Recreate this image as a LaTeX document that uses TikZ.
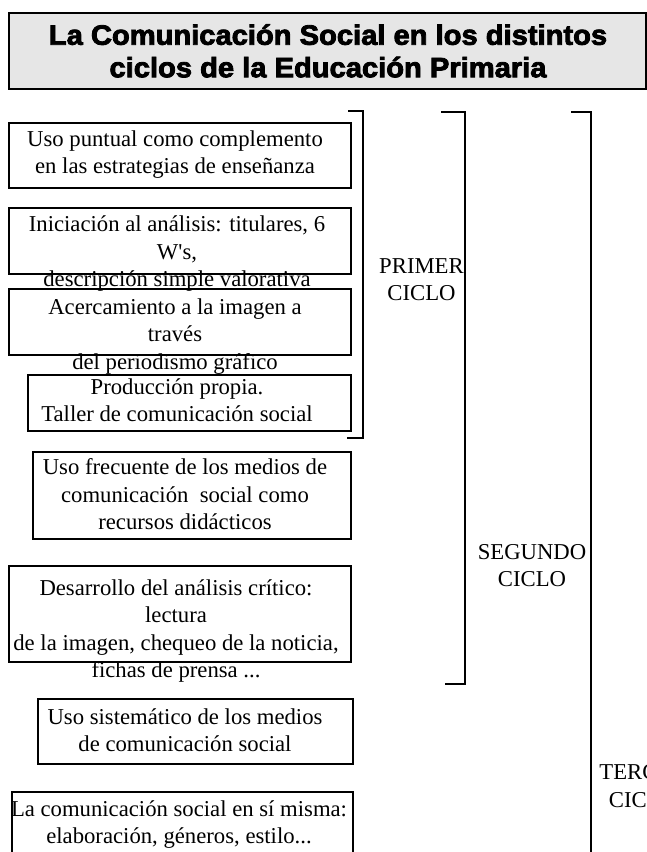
\documentclass[tikz,border=0pt]{standalone}
\usepackage{fontspec}
\setmainfont{Liberation Serif}
\newfontfamily\titlefont[FakeBold=3,FakeStretch=1.04]{Liberation Sans Bold}
\usetikzlibrary{positioning}
\definecolor{fondoTitulo}{HTML}{E6E6E6}

\begin{document}
\begin{tikzpicture}[x=1pt, y=1pt,
        caja/.style={draw, line width=1.5pt, anchor=north west, inner sep=0},
        txt/.style={font=\fontsize{22.7}{27.5}\selectfont, align=center, anchor=north, inner sep=0},
        tit/.style={font=\titlefont\fontsize{28}{32.5}\selectfont, align=center, anchor=north, inner sep=0},
        llave/.style={line width=1.5pt}]
        \useasboundingbox (0,0) rectangle (647,-852);
        \clip (0,0) rectangle (647,-852);
        \node[caja, fill=fondoTitulo, line width=1.8pt, minimum width=637pt, minimum height=76pt] (marco) at (8,-12) {};
        \node[tit] (titulo) at (328,-24) {La Comunicación Social en los distintos\\ciclos de la Educación Primaria};

        \node[caja, minimum width=342pt, minimum height=65pt] (c1) at (8,-122) {};
        \node[caja, minimum width=342pt, minimum height=66pt] (c2) at (8,-207) {};
        \node[caja, minimum width=342pt, minimum height=66pt] (c3) at (8,-288) {};
        \node[caja, minimum width=323pt, minimum height=56pt] (c4) at (27,-374) {};
        \node[caja, minimum width=318pt, minimum height=87pt] (c5) at (32,-451) {};
        \node[caja, minimum width=342pt, minimum height=96pt] (c6) at (8,-565) {};
        \node[caja, minimum width=315pt, minimum height=65pt] (c7) at (37,-698) {};
        \node[caja, minimum width=341pt, minimum height=80pt] (c8) at (11,-791) {};

        \node[txt] (t1) at (175,-130.5) {Uso puntual como complemento\\en las estrategias de enseñanza};
        \node[txt] (t2) at (177,-216) {Iniciación al análisis: titulares, 6\\W\textquotesingle s,\\descripción simple valorativa};
        \node[txt] (t3) at (175,-298.5) {Acercamiento a la imagen a\\través\\del periodismo gráfico};
        \node[txt] (t4) at (177,-378.5) {Producción propia.\\Taller de comunicación social};
        \node[txt] (t5) at (185,-458.5) {Uso frecuente de los medios de\\comunicación~ social como\\recursos didácticos};
        \node[txt] (t6) at (176,-579.5) {Desarrollo del análisis crítico:\\lectura\\de la imagen, chequeo de la noticia,\\fichas de prensa ...};
        \node[txt] (t7) at (185,-708.5) {Uso sistemático de los medios\\de comunicación social};
        \node[txt] (t8) at (179,-800.5) {La comunicación social en sí misma:\\elaboración, géneros, estilo...};

        \node[txt] (primer) at (421.5,-258) {PRIMER\\CICLO};
        \node[txt] (segundo) at (532,-544) {SEGUNDO\\CICLO};
        \node[txt] (tercer) at (643,-764.5) {TERCER\\CICLO};

        \draw[llave] (348,-111) -- (363,-111) -- (363,-438) -- (347,-438);
        \draw[llave] (441,-112) -- (465,-112) -- (465,-684) -- (445,-684);
        \draw[llave] (571,-112) -- (591,-112) -- (591,-860);
\end{tikzpicture}
\end{document}
